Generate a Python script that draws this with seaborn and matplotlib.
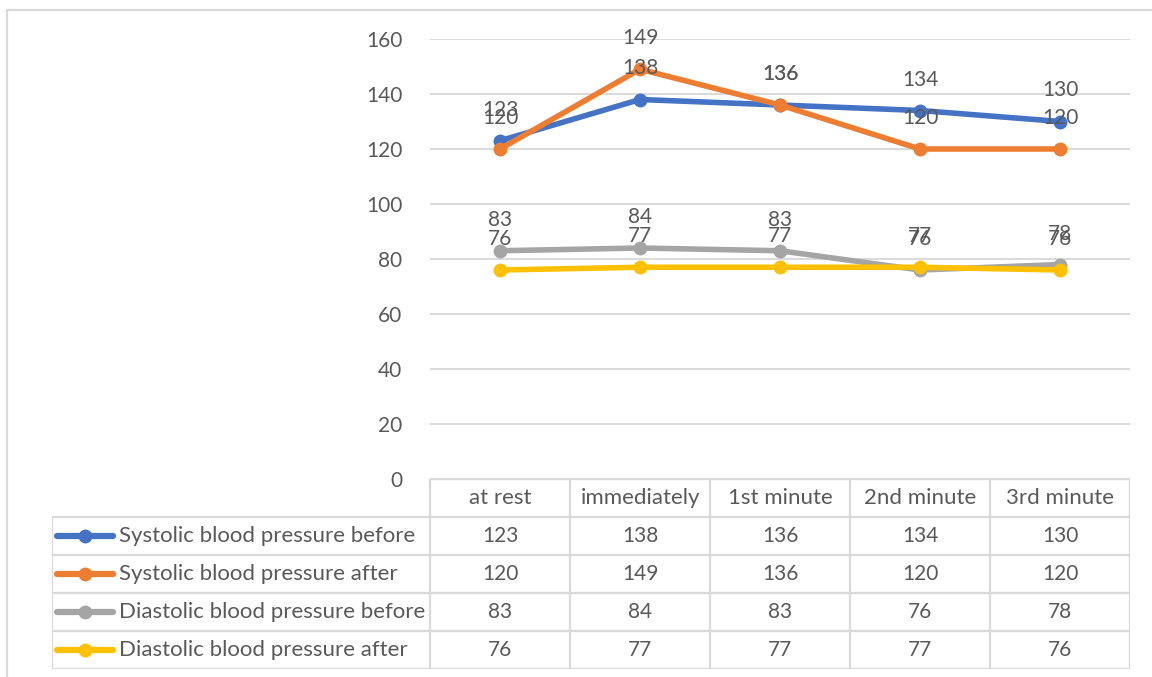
import matplotlib
matplotlib.use("Agg")
import matplotlib.pyplot as plt
import seaborn as sns
import pandas as pd

# ---- data ----
timepoints = ["at rest", "immediately", "1st minute", "2nd minute", "3rd minute"]
series_names = [
    "Systolic blood pressure before",
    "Systolic blood pressure after",
    "Diastolic blood pressure before",
    "Diastolic blood pressure after",
]
systolic_before = [123, 138, 136, 134, 130]
systolic_after = [120, 149, 136, 120, 120]
diastolic_before = [83, 84, 83, 76, 78]
diastolic_after = [76, 77, 77, 77, 76]
yticks = [0, 20, 40, 60, 80, 100, 120, 140, 160]

series_values = [systolic_before, systolic_after, diastolic_before, diastolic_after]
colors = ["#4472C4", "#ED7D31", "#A5A5A5", "#FFC000"]

df = pd.DataFrame(
    [(t, name, v)
     for name, vals in zip(series_names, series_values)
     for t, v in zip(timepoints, vals)],
    columns=["time", "series", "value"],
)

sns.set_theme(style="white")
plt.rcParams["font.family"] = ["Lato", "DejaVu Sans"]
TXT = "#595959"
GRID = "#D9D9D9"
FS = 15        # numbers
FS_WORD = 16   # category and series names

W, H = 1152, 677
fig = plt.figure(figsize=(W / 100, H / 100), dpi=100)

def px_axes(x0, y0, x1, y1):
    return fig.add_axes([x0 / W, 1 - y1 / H, (x1 - x0) / W, (y1 - y0) / H])

# outer chart frame
frame = fig.add_axes([0, 0, 1, 1])
frame.set_xlim(0, W)
frame.set_ylim(H, 0)
frame.axis("off")
frame.plot([7, 7, W], [H, 10, 10], color=GRID, lw=1.6, solid_capstyle="butt")

# ---- line chart ----
ax = px_axes(430, 39, 1130, 479)
sns.lineplot(
    data=df, x="time", y="value", hue="series", hue_order=series_names,
    palette=colors, marker="o", markersize=10, markeredgewidth=0,
    linewidth=4, sort=False, legend=False, ax=ax,
)
ax.set_xlim(-0.5, len(timepoints) - 0.5)
ax.set_ylim(0, 160)
ax.set_yticks(yticks)
ax.set_yticklabels([str(v) for v in yticks], fontsize=FS, color=TXT)
ax.tick_params(axis="y", length=0, pad=20)
ax.set_xticks([])
ax.set_xlabel("")
ax.set_ylabel("")
for s in ax.spines.values():
    s.set_visible(False)
ax.set_axisbelow(True)
ax.grid(axis="y", color=GRID, lw=1.4)
ax.grid(axis="x", visible=False)
ax.set_facecolor("none")

# value labels above each point
for vals in series_values:
    for i, v in enumerate(vals):
        ax.annotate(str(v), (i, v), xytext=(0, 31), textcoords="offset pixels",
                    ha="center", va="center", fontsize=FS, color=TXT)

# ---- data table beneath the chart ----
n = len(timepoints)
left_unit = -0.5 - (430 - 52) / 140
tab = px_axes(52, 479, 1130, 669)
tab.set_xlim(left_unit, n - 0.5)
tab.set_ylim(len(series_names) + 1, 0)
tab.axis("off")

lw_t = 1.6
tab.plot([-0.5, n - 0.5], [0, 0], color=GRID, lw=lw_t)
for r in range(1, len(series_names) + 2):
    tab.plot([left_unit, n - 0.5], [r, r], color=GRID, lw=lw_t)
tab.plot([left_unit, left_unit], [1, len(series_names) + 1], color=GRID, lw=lw_t)
for c in range(n + 1):
    tab.plot([c - 0.5, c - 0.5], [0, len(series_names) + 1], color=GRID, lw=lw_t)

for i, t in enumerate(timepoints):
    tab.text(i, 0.5, t, ha="center", va="center", fontsize=FS_WORD, color=TXT)

key_x0 = left_unit + (57 - 52) / 140
key_x1 = left_unit + (113 - 52) / 140
key_xm = (key_x0 + key_x1) / 2
label_x = left_unit + (119 - 52) / 140
for r, (name, vals, col) in enumerate(zip(series_names, series_values, colors), start=1):
    yc = r + 0.5
    tab.plot([key_x0, key_x1], [yc, yc], color=col, lw=4.5, solid_capstyle="round")
    tab.plot([key_xm], [yc], marker="o", color=col, markersize=10, markeredgewidth=0)
    tab.text(label_x, yc, name, ha="left", va="center", fontsize=FS_WORD, color=TXT)
    for i, v in enumerate(vals):
        tab.text(i, yc, str(v), ha="center", va="center", fontsize=FS, color=TXT)

fig.savefig("out.png", dpi=100, facecolor="white")
